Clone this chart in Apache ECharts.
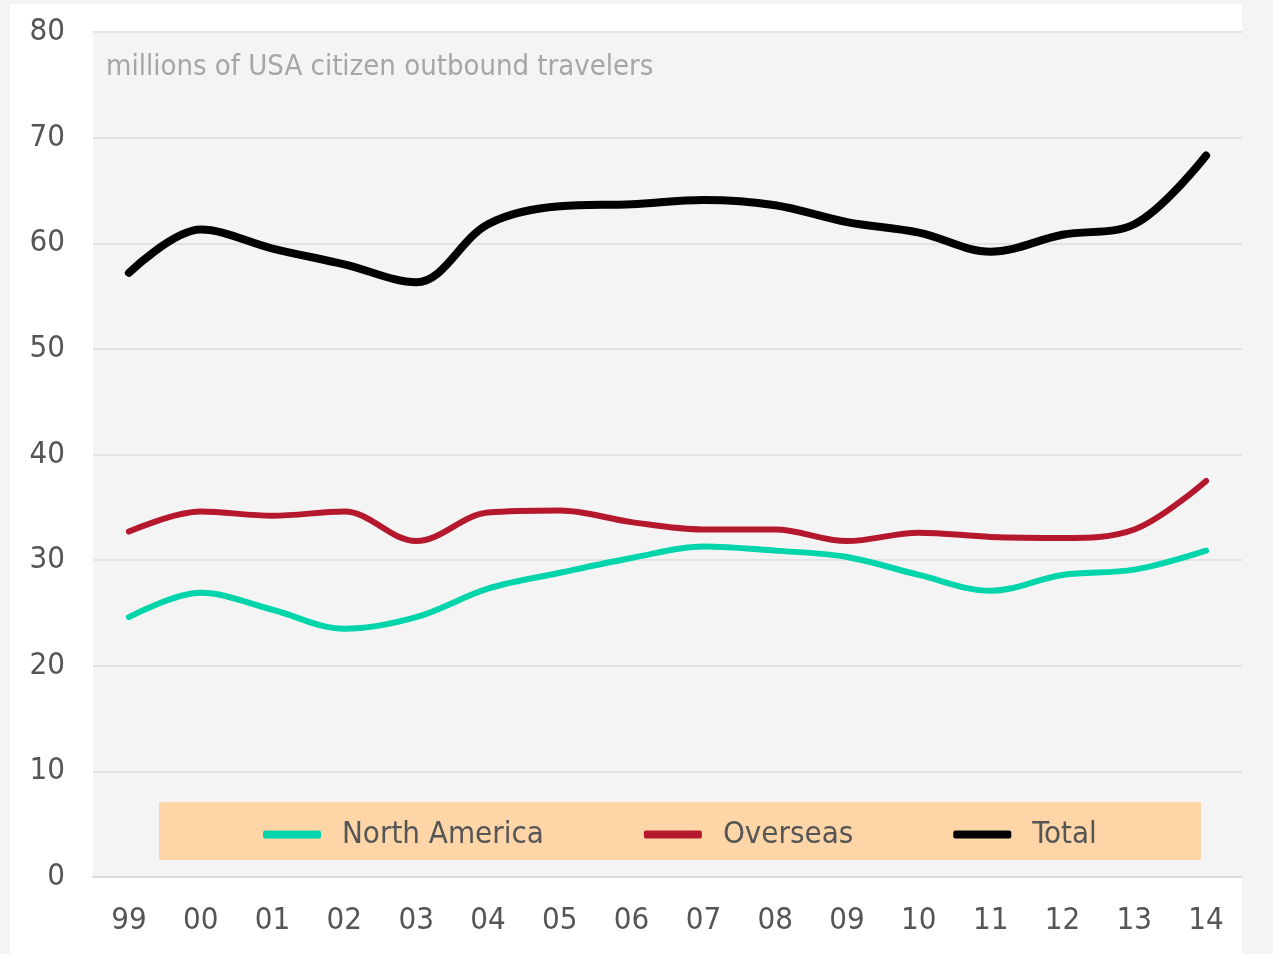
<!DOCTYPE html>
<html>
<head>
<meta charset="utf-8">
<script src="https://cdn.jsdelivr.net/npm/echarts@6/dist/echarts.min.js"></script>
<style>
    html, body {
        margin: 0;
        padding: 0;
        background: #f4f4f4;
    }
    .card {
        position: absolute;
        left: 10px;
        top: 4px;
        width: 1232px;
        height: 950px;
        background: #ffffff;
    }
    #chart {
        position: absolute;
        left: 0;
        top: 0;
        width: 1273px;
        height: 954px;
    }
</style>
</head>
<body>
<div class="card"></div>
<div id="chart"></div>
<script>
    let years = ['99', '00', '01', '02', '03', '04', '05', '06', '07', '08', '09', '10', '11', '12', '13', '14'];

    let northAmerica = [24.6, 26.9, 25.3, 23.5, 24.6, 27.3, 28.8, 30.2, 31.3, 30.9, 30.3, 28.6, 27.1, 28.6, 29.1, 30.9];
    let overseas = [32.7, 34.6, 34.2, 34.6, 31.8, 34.5, 34.7, 33.6, 32.9, 32.9, 31.8, 32.6, 32.2, 32.1, 32.9, 37.5];
    let total = [57.2, 61.3, 59.5, 58.0, 56.3, 61.8, 63.5, 63.7, 64.1, 63.6, 62.0, 61.0, 59.2, 60.8, 61.8, 68.3];

    let font = '"DejaVu Sans Condensed", "DejaVu Sans", sans-serif';

    let myChart = echarts.init(document.getElementById('chart'));

    let option = {
        backgroundColor: 'transparent',
        textStyle: {
            fontFamily: font
        },
        title: {
            text: 'millions of USA citizen outbound travelers',
            left: 101,
            top: 48,
            textStyle: {
                fontFamily: font,
                fontSize: 29,
                fontWeight: 'normal',
                color: '#a6a6a6'
            }
        },
        graphic: {
            elements: [{
                type: 'rect',
                z: 1,
                shape: {x: 159, y: 802, width: 1042, height: 58},
                style: {fill: '#fdd5a7'}
            }]
        },
        legend: {
            left: 258,
            top: 814,
            itemWidth: 58,
            itemHeight: 8,
            itemGap: 100,
            icon: 'roundRect',
            textStyle: {
                fontFamily: font,
                fontSize: 31,
                color: '#555555',
                padding: [4, 0, 0, 16]
            },
            data: ['North America', 'Overseas', 'Total']
        },
        grid: {
            left: 93,
            right: 31,
            top: 32,
            bottom: 77,
            show: true,
            backgroundColor: '#f4f4f4',
            borderWidth: 0
        },
        xAxis: {
            type: 'category',
            data: years,
            boundaryGap: true,
            axisLine: {lineStyle: {color: '#dcdcdc', width: 2}},
            axisTick: {show: false},
            axisLabel: {
                fontFamily: font,
                fontSize: 31,
                color: '#555555',
                margin: 28
            }
        },
        yAxis: {
            type: 'value',
            min: 0,
            max: 80,
            interval: 10,
            axisLine: {show: false},
            axisTick: {show: false},
            splitLine: {lineStyle: {color: '#e2e2e2', width: 2}},
            axisLabel: {
                fontFamily: font,
                fontSize: 31,
                color: '#555555',
                margin: 28,
                lineHeight: 38,
                padding: [12, 0, 0, 0]
            }
        },
        series: [
            {
                name: 'North America',
                type: 'line',
                data: northAmerica,
                smooth: 0.35,
                showSymbol: false,
                color: '#00d4aa',
                lineStyle: {width: 6, cap: 'round'}
            },
            {
                name: 'Overseas',
                type: 'line',
                data: overseas,
                smooth: 0.35,
                showSymbol: false,
                color: '#b5182d',
                lineStyle: {width: 6, cap: 'round'}
            },
            {
                name: 'Total',
                type: 'line',
                data: total,
                smooth: 0.35,
                showSymbol: false,
                color: '#000000',
                lineStyle: {width: 8, cap: 'round'}
            }
        ]
    };

    myChart.setOption(option);
</script>
</body>
</html>
